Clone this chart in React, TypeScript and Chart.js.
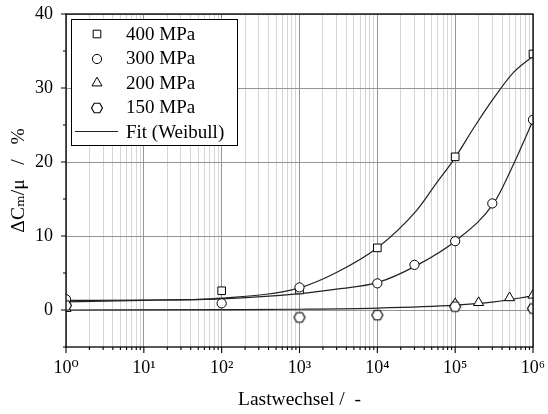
import React, { useEffect, useRef } from 'react';
import { Chart, registerables } from 'chart.js';
import { drawPoint } from 'chart.js/helpers';

Chart.register(...registerables);

// ---------- data ----------
const X_DECADES = [1, 10, 100, 1000, 10000, 100000, 1000000];
const X_MINOR_MULTIPLIERS = [2, 3, 4, 5, 6, 7, 8, 9];
const X_TICK_LABELS = ['10⁰', '10¹', '10²', '10³', '10⁴', '10⁵', '10⁶'];
const Y_TICK_VALUES = [-5, 0, 5, 10, 15, 20, 25, 30, 35, 40];
const Y_TICK_LABELS = ['', '0', '', '10', '', '20', '', '30', '', '40'];

const SERIES_NAMES = ['400 MPa', '300 MPa', '200 MPa', '150 MPa'];
const FIT_NAME = 'Fit (Weibull)';
const X_TITLE = 'Lastwechsel /  -';
const Y_TITLE = 'ΔCₘ/μ   /   %';

const N400 = [1, 100, 1000, 10000, 100000, 1000000];
const V400 = [1.2, 2.6, 2.7, 8.4, 20.7, 34.6];
const N300 = [1, 100, 1000, 10000, 30000, 100000, 300000, 1000000];
const V300 = [1.45, 0.9, 3.05, 3.6, 6.1, 9.3, 14.4, 25.7];
const N200 = [1, 100000, 200000, 500000, 1000000];
const V200 = [0.2, 0.85, 1.0, 1.65, 2.0];
const N150 = [1, 1000, 10000, 100000, 1000000];
const V150 = [0.6, -1.0, -0.7, 0.45, 0.2];

const FIT400_N = [1, 10, 100, 1000, 3162, 10000, 31623, 56234, 100000, 177828, 316228, 562341, 1000000];
const FIT400_V = [1.1, 1.3, 1.6, 3.0, 5.2, 8.4, 13.4, 17.0, 20.6, 24.8, 28.7, 32.1, 34.3];
const FIT300_N = [1, 10, 100, 1000, 3162, 10000, 31623, 100000, 316228, 562341, 1000000];
const FIT300_V = [1.3, 1.35, 1.5, 2.2, 2.85, 3.7, 6.0, 9.3, 14.5, 19.7, 25.6];
const FIT200_N = [1, 100, 1000, 10000, 100000, 316228, 1000000];
const FIT200_V = [0.0, 0.05, 0.1, 0.25, 0.65, 1.1, 1.9];

const FONT = "'Liberation Serif', 'DejaVu Serif', serif";

const zip = (xs: number[], ys: number[]) => xs.map((x, i) => ({ x, y: ys[i] }));

function makeHexagon(r: number, lw: number): HTMLCanvasElement {
  const c = document.createElement('canvas');
  const s = 2 * Math.ceil(r + lw);
  c.width = s;
  c.height = s;
  const ctx = c.getContext('2d')!;
  ctx.beginPath();
  for (let i = 0; i < 6; i++) {
    const a = (Math.PI / 3) * i;
    ctx.lineTo(s / 2 + r * Math.cos(a), s / 2 + r * Math.sin(a));
  }
  ctx.closePath();
  ctx.fillStyle = '#fff';
  ctx.fill();
  ctx.lineWidth = lw;
  ctx.strokeStyle = '#000';
  ctx.stroke();
  return c;
}

export default function App() {
  const ref = useRef<HTMLCanvasElement | null>(null);

  useEffect(() => {
    document.body.style.margin = '0';
    const hex = makeHexagon(5.5, 1.15);
    const styles: any[] = ['rect', 'circle', 'triangle', hex];
    const radii = [5.4, 4.6, 5.8, 5];

    const framePlugin = {
      id: 'frameTicks',
      afterDatasetsDraw(chart: any) {
        const { ctx, chartArea } = chart;
        const { left, right, top, bottom } = chartArea;
        const xs = chart.scales.x;
        const ys = chart.scales.y;
        ctx.save();
        ctx.strokeStyle = '#000';
        ctx.lineWidth = 1.3;
        ctx.strokeRect(left, top, right - left, bottom - top);
        ctx.lineWidth = 1.1;
        ctx.beginPath();
        xs.ticks.forEach((t: any) => {
          const px = xs.getPixelForValue(t.value);
          const len = t.major ? 6 : 3;
          ctx.moveTo(px, bottom);
          ctx.lineTo(px, bottom + len);
        });
        ys.ticks.forEach((t: any) => {
          const py = ys.getPixelForValue(t.value);
          const len = t.value % 10 === 0 ? 5 : 3;
          ctx.moveTo(left - len, py);
          ctx.lineTo(left, py);
        });
        ctx.stroke();

        // legend
        const bx = left + 5.5;
        const by = top + 5.5;
        const bw = 166;
        const bh = 126;
        ctx.fillStyle = '#fff';
        ctx.fillRect(bx, by, bw, bh);
        ctx.lineWidth = 1;
        ctx.strokeStyle = '#000';
        ctx.strokeRect(bx, by, bw, bh);
        ctx.font = `19px ${FONT}`;
        ctx.textBaseline = 'middle';
        ctx.textAlign = 'left';
        const rowY = (i: number) => top + 21 + i * 24.5;
        SERIES_NAMES.forEach((name, i) => {
          ctx.fillStyle = '#fff';
          ctx.strokeStyle = '#000';
          ctx.lineWidth = 1;
          drawPoint(ctx, { pointStyle: styles[i], radius: radii[i], borderWidth: 1, rotation: 0 } as any, Math.round(left + 31), Math.round(rowY(i) - 1));
          ctx.fillStyle = '#000';
          ctx.fillText(name, left + 60, rowY(i));
        });
        ctx.strokeStyle = '#222';
        ctx.lineWidth = 1.2;
        ctx.beginPath();
        ctx.moveTo(left + 9, rowY(4) - 1.5);
        ctx.lineTo(left + 52, rowY(4) - 1.5);
        ctx.stroke();
        ctx.fillStyle = '#000';
        ctx.fillText(FIT_NAME, left + 60, rowY(4));
        ctx.restore();
      },
    };

    const xTickValues: number[] = [];
    X_DECADES.forEach((d, i) => {
      xTickValues.push(d);
      if (i < X_DECADES.length - 1) X_MINOR_MULTIPLIERS.forEach((m) => xTickValues.push(d * m));
    });

    const scatter = (label: string, xs: number[], ys: number[], i: number, order: number) => ({
      type: 'scatter',
      label,
      data: zip(xs, ys),
      showLine: false,
      pointStyle: styles[i],
      pointRadius: radii[i],
      pointHoverRadius: radii[i],
      pointBackgroundColor: '#fff',
      pointBorderColor: '#000',
      pointBorderWidth: 1,
      clip: 0,
      order,
    });
    const fit = (xs: number[], ys: number[], order: number) => ({
      type: 'line',
      label: FIT_NAME,
      data: zip(xs, ys),
      borderColor: '#222',
      borderWidth: 1.2,
      pointRadius: 0,
      fill: false,
      cubicInterpolationMode: 'monotone',
      clip: 0,
      order,
    });

    const chart = new Chart(ref.current!, {
      type: 'scatter',
      data: {
        datasets: [
          scatter(SERIES_NAMES[3], N150, V150, 3, 1) as any,
          scatter(SERIES_NAMES[2], N200, V200, 2, 2) as any,
          scatter(SERIES_NAMES[1], N300, V300, 1, 3) as any,
          scatter(SERIES_NAMES[0], N400, V400, 0, 4) as any,
          fit(FIT400_N, FIT400_V, 10) as any,
          fit(FIT300_N, FIT300_V, 11) as any,
          fit(FIT200_N, FIT200_V, 12) as any,
        ],
      },
      options: {
        animation: false,
        responsive: false,
        devicePixelRatio: 1,
        layout: { padding: { top: 14, right: 15, left: 0, bottom: 0 } },
        plugins: { legend: { display: false }, tooltip: { enabled: false } },
        scales: {
          x: {
            type: 'logarithmic',
            min: 1,
            max: 1000000,
            afterBuildTicks: (scale: any) => {
              scale.ticks = xTickValues.map((v) => ({ value: v, major: X_DECADES.includes(v) }));
            },
            afterFit: (scale: any) => {
              scale.height = 67;
              scale.paddingLeft = 0;
              scale.paddingRight = 0;
            },
            ticks: {
              autoSkip: false,
              maxRotation: 0,
              padding: 10,
              color: '#000',
              font: { family: FONT, size: 18 },
              callback: (v: any) => {
                const i = X_DECADES.indexOf(Number(v));
                return i >= 0 ? X_TICK_LABELS[i] : '';
              },
            },
            grid: {
              color: (c: any) => (c.tick && c.tick.major ? '#959595' : '#d6d6d6'),
              lineWidth: 1,
              drawTicks: false,
            },
            border: { display: false },
            title: {
              display: true,
              text: X_TITLE,
              color: '#000',
              font: { family: FONT, size: 19.5 },
              padding: { top: 0, bottom: 2.5 },
            },
          },
          y: {
            type: 'linear',
            min: -5,
            max: 40,
            afterBuildTicks: (scale: any) => {
              scale.ticks = Y_TICK_VALUES.map((v) => ({ value: v }));
            },
            afterFit: (scale: any) => {
              scale.width = 66;
              scale.paddingTop = 0;
              scale.paddingBottom = 0;
            },
            ticks: {
              autoSkip: false,
              padding: 13,
              color: '#000',
              font: { family: FONT, size: 18 },
              callback: (v: any) => {
                const i = Y_TICK_VALUES.indexOf(Number(v));
                return i >= 0 ? Y_TICK_LABELS[i] : '';
              },
            },
            grid: {
              color: (c: any) => (c.tick && c.tick.value % 10 === 0 && c.tick.value > -5 ? '#959595' : 'rgba(0,0,0,0)'),
              lineWidth: 1,
              drawTicks: false,
            },
            border: { display: false },
            title: {
              display: true,
              text: Y_TITLE,
              color: '#000',
              font: { family: FONT, size: 19.5 },
              padding: { top: 7.5, bottom: 0 },
            },
          },
        },
      },
      plugins: [framePlugin],
    } as any);

    return () => chart.destroy();
  }, []);

  return (
    <div style={{ position: 'absolute', left: 0, top: 0, width: 548, height: 414 }}>
      <canvas ref={ref} width={548} height={414} style={{ width: 548, height: 414 }} />
    </div>
  );
}
